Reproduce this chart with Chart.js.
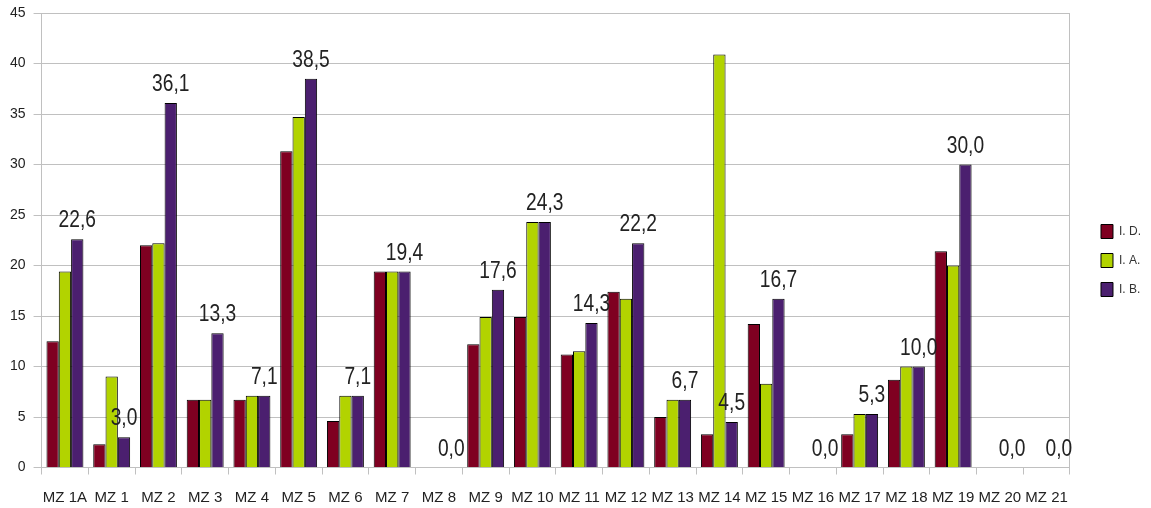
<!DOCTYPE html>
<html>
<head>
<meta charset="utf-8">
<script src="https://cdn.jsdelivr.net/npm/chart.js@4.4.1/dist/chart.umd.min.js"></script>
<style>
    html, body { margin: 0; padding: 0; background: #ffffff; }
    #wrap { width: 1151px; height: 508px; position: relative; }
</style>
</head>
<body>
<div id="wrap"><canvas id="barChart"></canvas></div>
<script>
// Categories (x axis)
const categories = ['MZ 1A', 'MZ 1', 'MZ 2', 'MZ 3', 'MZ 4', 'MZ 5', 'MZ 6', 'MZ 7', 'MZ 8', 'MZ 9', 'MZ 10',
    'MZ 11', 'MZ 12', 'MZ 13', 'MZ 14', 'MZ 15', 'MZ 16', 'MZ 17', 'MZ 18', 'MZ 19', 'MZ 20', 'MZ 21'];

// Series values
const seriesID = [12.5, 2.3, 22.0, 6.7, 6.7, 31.3, 4.6, 19.4, 0, 12.2, 14.9, 11.2, 17.4, 5.0, 3.3, 14.2, 0, 3.3, 8.7, 21.4, 0, 0];
const seriesIA = [19.4, 9.0, 22.2, 6.7, 7.1, 34.7, 7.1, 19.4, 0, 14.9, 24.3, 11.5, 16.7, 6.7, 40.9, 8.3, 0, 5.3, 10.0, 20.0, 0, 0];
const seriesIB = [22.6, 3.0, 36.1, 13.3, 7.1, 38.5, 7.1, 19.4, 0, 17.6, 24.3, 14.3, 22.2, 6.7, 4.5, 16.7, 0, 5.3, 10.0, 30.0, 0, 0];

const seriesNames = ['I. D.', 'I. A.', 'I. B.'];

// Y axis range
const yMin = 0;
const yMax = 45;
const yStep = 5;

const baseFont = "'Liberation Sans', Arial, sans-serif";

// Draws the value of the last series (I. B.) above its bars, a bit condensed like the original
const valueLabels = {
    id: 'valueLabels',
    afterDatasetsDraw(chart) {
        const ctx = chart.ctx;
        const meta = chart.getDatasetMeta(2);
        ctx.save();
        ctx.font = '24px ' + baseFont;
        ctx.fillStyle = '#222222';
        ctx.textAlign = 'center';
        ctx.textBaseline = 'alphabetic';
        meta.data.forEach(function(bar, i) {
            const text = seriesIB[i].toFixed(1).replace('.', ',');
            ctx.save();
            ctx.translate(bar.x, bar.y - 12);
            ctx.scale(0.8, 1);
            ctx.fillText(text, 0, 0);
            ctx.restore();
        });
        ctx.restore();
    }
};

const ctx = document.getElementById('barChart').getContext('2d');

const data = {
    labels: categories,
    datasets: [{
        label: seriesNames[0],
        data: seriesID,
        backgroundColor: '#7f0021',
        borderColor: '#000000',
        borderWidth: 1
    }, {
        label: seriesNames[1],
        data: seriesIA,
        backgroundColor: '#b2d300',
        borderColor: '#000000',
        borderWidth: 1
    }, {
        label: seriesNames[2],
        data: seriesIB,
        backgroundColor: '#4b1f6f',
        borderColor: '#000000',
        borderWidth: 1
    }]
};

var myChart = new Chart(ctx, {
    type: 'bar',
    data: data,
    plugins: [valueLabels],
    options: {
        responsive: true,
        maintainAspectRatio: false,
        animation: false,
        categoryPercentage: 0.79,
        barPercentage: 1.0,
        layout: {
            padding: { left: 2, top: 13, right: 0, bottom: 0 }
        },
        plugins: {
            tooltip: { enabled: false },
            legend: {
                position: 'right',
                labels: {
                    boxWidth: 12,
                    boxHeight: 14,
                    padding: 15,
                    color: '#333333',
                    font: { family: baseFont, size: 12 }
                }
            }
        },
        scales: {
            x: {
                grid: {
                    drawOnChartArea: false,
                    tickLength: 7,
                    color: '#c0c0c0',
                    offset: true
                },
                border: { color: '#c0c0c0' },
                ticks: {
                    autoSkip: false,
                    maxRotation: 0,
                    padding: 14,
                    color: '#222222',
                    font: { family: baseFont, size: 15 }
                },
                afterFit: function(scale) {
                    scale.height = 40.5;
                    scale.paddingLeft = 0;
                    scale.paddingRight = 0;
                }
            },
            y: {
                min: yMin,
                max: yMax,
                grid: {
                    color: '#c0c0c0',
                    tickLength: 8
                },
                border: { color: '#c0c0c0' },
                ticks: {
                    stepSize: yStep,
                    padding: 8,
                    color: '#222222',
                    font: { family: baseFont, size: 14 }
                },
                afterFit: function(scale) {
                    scale.paddingTop = 0;
                    scale.paddingBottom = 0;
                }
            },
            yRight: {
                position: 'right',
                display: true,
                grid: { drawOnChartArea: false, drawTicks: false },
                border: { color: '#c0c0c0' },
                ticks: { display: false },
                afterFit: function(scale) {
                    scale.width = 16;
                    scale.paddingTop = 0;
                    scale.paddingBottom = 0;
                }
            }
        }
    }
});
</script>
</body>
</html>
